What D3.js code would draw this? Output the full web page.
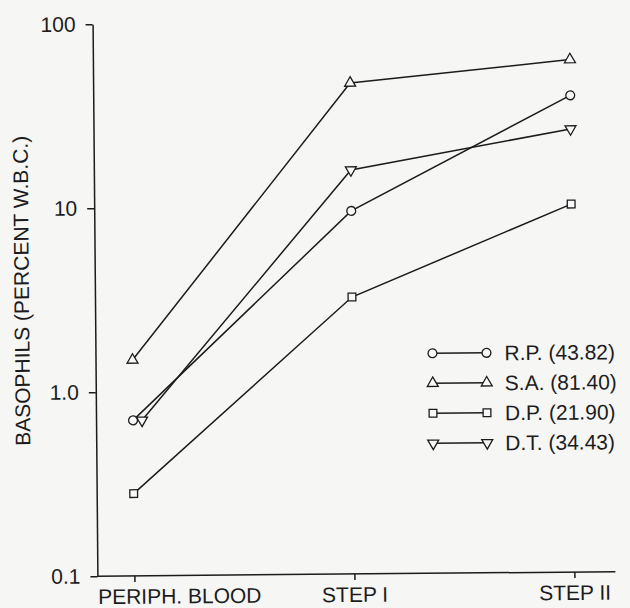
<!DOCTYPE html>
<html>
<head>
<meta charset="utf-8">
<title>Basophils by step</title>
<script src="https://cdn.jsdelivr.net/npm/d3@7/dist/d3.min.js"></script>
<style>
    body {
        margin: 0;
        background-color: #f6f6f5;
        font-family: 'Liberation Sans', Arial, sans-serif;
    }
    .axis path, .axis line {
        stroke: #1c1c1c;
        stroke-width: 1.5;
    }
    .axis text {
        font-size: 21px;
        fill: #1c1c1c;
    }
</style>
</head>
<body>
<div id="chart"></div>
<script>
// values (percent of W.B.C., log axis)
var categories = ["PERIPH. BLOOD", "STEP I", "STEP II"];
var seriesNames = ["R.P. (43.82)", "S.A. (81.40)", "D.P. (21.90)", "D.T. (34.43)"];
var rpValues = [0.70, 9.4, 39];
var saValues = [1.49, 46.6, 61];
var dpValues = [0.28, 3.2, 10.0];
var dtValues = [0.70, 15.7, 25.6];
var yTicks = [0.1, 1, 10, 100];
var yTickLabels = ["0.1", "1.0", "10", "100"];

var width = 630, height = 608;
var axisX = 95, axisBottom = 574, axisTop = 22, axisRight = 613;

var series = [
    {name: seriesNames[0], values: rpValues, shape: "circle"},
    {name: seriesNames[1], values: saValues, shape: "up"},
    {name: seriesNames[2], values: dpValues, shape: "square"},
    {name: seriesNames[3], values: dtValues, shape: "down"}
];

var x = d3.scalePoint().domain(categories).range([132, 572]);
var y = d3.scaleLog().domain([0.1, 100]).range([axisBottom, axisTop]);

var svg = d3.select("#chart").append("svg")
    .attr("width", width)
    .attr("height", height);

// the scan is a touch rotated
var g = svg.append("g")
    .attr("transform", "rotate(-0.5, 350, 300)");

// marker shapes
function symbolFor(shape) {
    if (shape == "circle") return d3.symbol().type(d3.symbolCircle).size(62)();
    if (shape == "square") return d3.symbol().type(d3.symbolSquare).size(60)();
    return d3.symbol().type(d3.symbolTriangle).size(52)();
}
function drawMarker(sel, shape, px, py) {
    sel.append("path")
        .attr("d", symbolFor(shape))
        .attr("transform", "translate(" + px + "," + py + ")" + (shape == "down" ? " rotate(180)" : ""))
        .attr("fill", "#f8f8f8")
        .attr("stroke", "#1c1c1c")
        .attr("stroke-width", 1.3);
}

// y axis
var yAxis = d3.axisLeft(y)
    .tickValues(yTicks)
    .tickFormat(function(d, i) { return yTickLabels[i]; })
    .tickSizeInner(7)
    .tickSizeOuter(0)
    .tickPadding(10);

g.append("g")
    .attr("class", "y axis")
    .attr("transform", "translate(" + axisX + ",0)")
    .call(yAxis);

// x axis
var xAxis = d3.axisBottom(x)
    .tickSizeInner(6)
    .tickSizeOuter(0)
    .tickPadding(7);

var xg = g.append("g")
    .attr("class", "x axis")
    .attr("transform", "translate(0," + axisBottom + ")")
    .call(xAxis);
xg.select(".domain").attr("d", "M" + axisX + ",0H" + axisRight);
// first label starts at the axis instead of centring on the tick
xg.selectAll(".tick text").filter(function(d, i) { return i == 0; })
    .attr("text-anchor", "start")
    .attr("x", axisX - x(categories[0]));

// y axis title
g.append("text")
    .attr("transform", "translate(29,288) rotate(-90)")
    .attr("text-anchor", "middle")
    .style("font-size", "21px")
    .style("fill", "#1c1c1c")
    .text("BASOPHILS (PERCENT W.B.C.)");

// compute point positions, nudging markers that would sit on top of each other
var placed = [];
series.forEach(function(s) {
    s.points = s.values.map(function(v, i) {
        var px = x(categories[i]), py = y(v);
        placed.forEach(function(p) {
            if (p.i == i && Math.abs(p.py - py) < 4 && Math.abs(p.px - px) < 4) px += 9;
        });
        var pt = {i: i, px: px, py: py};
        placed.push(pt);
        return pt;
    });
});

var line = d3.line()
    .x(function(d) { return d.px; })
    .y(function(d) { return d.py; });

series.forEach(function(s) {
    g.append("path")
        .datum(s.points)
        .attr("d", line)
        .attr("fill", "none")
        .attr("stroke", "#1c1c1c")
        .attr("stroke-width", 1.5);
});
series.forEach(function(s) {
    s.points.forEach(function(p) { drawMarker(g, s.shape, p.px, p.py); });
});

// legend
var legendY = d3.scalePoint().domain(seriesNames).range([354, 444]);
series.forEach(function(s) {
    var ly = legendY(s.name);
    g.append("line")
        .attr("x1", 432).attr("x2", 486)
        .attr("y1", ly).attr("y2", ly)
        .attr("stroke", "#1c1c1c")
        .attr("stroke-width", 1.5);
    drawMarker(g, s.shape, 432, ly);
    drawMarker(g, s.shape, 486, ly);
    g.append("text")
        .attr("x", 504)
        .attr("y", ly)
        .attr("dy", "0.36em")
        .style("font-size", "21px")
        .style("fill", "#1c1c1c")
        .text(s.name);
});
</script>
</body>
</html>
